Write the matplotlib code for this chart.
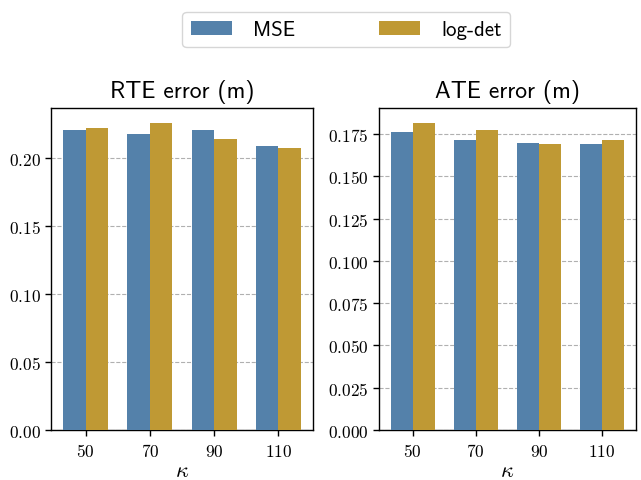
import matplotlib
matplotlib.use("Agg")
import matplotlib.pyplot as plt
import matplotlib.ticker as mticker
import numpy as np

plt.rcParams['mathtext.fontset'] = 'cm'
plt.rcParams['axes.unicode_minus'] = False

kappas = ['50', '70', '90', '110']
rte_mse = [0.2208, 0.2178, 0.2208, 0.2091]
rte_logdet = [0.2222, 0.2259, 0.2142, 0.2076]
ate_mse = [0.1762, 0.1715, 0.1697, 0.1691]
ate_logdet = [0.1815, 0.1774, 0.1691, 0.1715]

blue = '#5481AA'
gold = '#BF9934'
width = 0.35
x = np.arange(len(kappas))

fig = plt.figure(figsize=(6.41, 4.81), dpi=100)
ax1 = fig.add_axes([0.08, 0.104, 0.408, 0.67])
ax2 = fig.add_axes([0.591, 0.104, 0.401, 0.67])


def draw(ax, mse, logdet, title, fmt):
    b1 = ax.bar(x - width / 2, mse, width, color=blue, label='MSE', zorder=3)
    b2 = ax.bar(x + width / 2, logdet, width, color=gold, label='log-det', zorder=3)
    ax.set_xticks(x)
    ax.set_xticklabels(['$%s$' % k for k in kappas])
    ax.yaxis.set_major_formatter(mticker.FuncFormatter(lambda v, p: '$' + fmt % v + '$'))
    ax.tick_params(labelsize=12.5, length=4, width=1)
    ax.tick_params(axis='x', pad=5)
    ax.set_title(title, fontsize=17, family='cmss10', pad=8)
    ax.set_xlabel(r'$\kappa$', fontsize=16, labelpad=0)
    ax.grid(axis='y', linestyle='--', color='#b0b0b0', linewidth=0.8, zorder=0)
    ax.set_axisbelow(True)
    for s in ax.spines.values():
        s.set_linewidth(1.0)
    return b1, b2


h1, h2 = draw(ax1, rte_mse, rte_logdet, 'RTE error (m)', '%.2f')
ax1.yaxis.set_major_locator(mticker.MultipleLocator(0.05))
ax1.set_ylim(0, 0.2372)
draw(ax2, ate_mse, ate_logdet, 'ATE error (m)', '%.3f')
ax2.yaxis.set_major_locator(mticker.MultipleLocator(0.025))
ax2.set_ylim(0, 0.1906)

fig.legend([h1, h2], ['MSE', 'log-det'], loc='upper center', bbox_to_anchor=(0.54, 0.995),
           ncol=2, prop={'family': 'cmss10', 'size': 15}, handlelength=2.0,
           handletextpad=1.0, columnspacing=4.0, frameon=True, fancybox=True,
           edgecolor='#cccccc')

fig.savefig('out.png', dpi=100)
